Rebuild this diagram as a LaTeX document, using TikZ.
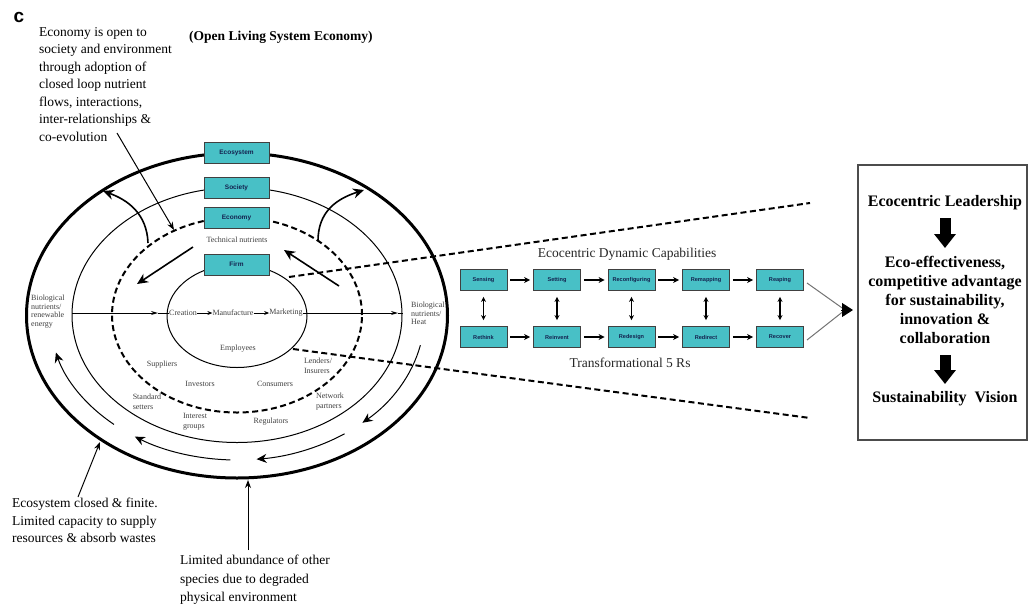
\documentclass[tikz,border=0pt]{standalone}
\usepackage{fontspec}
\setmainfont{Liberation Serif}
\newfontfamily\sansf{Liberation Sans}
\usetikzlibrary{arrows.meta}
\definecolor{cy}{RGB}{72,192,198}
\definecolor{navy}{RGB}{20,35,80}
\begin{document}
\begin{tikzpicture}[x=1pt,y=-1pt,
  ring/.style={draw=black!75,fill=cy,line width=0.8pt,minimum width=65pt,minimum height=21pt,inner sep=0pt,font=\sansf\bfseries\fontsize{6.5}{8}\selectfont,text=navy},
  capbox/.style={draw=black!75,fill=cy,line width=0.8pt,minimum width=47pt,minimum height=21pt,inner sep=0pt,font=\sansf\bfseries\fontsize{5.6}{6}\selectfont,text=navy},
  tiny/.style={font=\fontsize{8}{10}\selectfont,inner sep=0pt,text=black!75,align=left},
  body/.style={font=\fontsize{13.5}{17.5}\selectfont,align=left,inner sep=0pt},
  big/.style={font=\bfseries\fontsize{16}{19}\selectfont,align=center,inner sep=0pt},
  dashtwo/.style={line width=2pt,dash pattern=on 6pt off 3.5pt},
  boldarrow/.style={line width=1.6pt,-{Stealth[length=11pt,width=10pt]}},
  ptr/.style={line width=1pt,-{Stealth[length=8pt,width=6pt]}},
  flow/.style={line width=1pt,-{Stealth[length=10pt,width=9pt]}},
  smallflow/.style={line width=1pt,-{Stealth[length=7pt,width=4pt]}},
  capar/.style={line width=1.8pt,-{Stealth[length=6pt,width=6pt]},shorten <=3pt,shorten >=3pt},
  dbl/.style={line width=1.6pt,{Stealth[length=5pt,width=5pt]}-{Stealth[length=5pt,width=5pt]},shorten <=6pt,shorten >=6pt},
  block/.style={line width=11pt,-{Triangle[length=14pt,width=21pt]}}
]
\useasboundingbox (0,0) rectangle (1029,606);
\coordinate (c0) at (237,315);

% rings
\draw[line width=3pt] (237,315.5) ellipse [x radius=210.5pt, y radius=162.5pt];
\draw[line width=1pt] (237,315) ellipse [x radius=165pt, y radius=127.5pt];
\draw[dashtwo] (237,315) ellipse [x radius=125pt, y radius=97.5pt];
\draw[line width=1pt] (237,316) ellipse [x radius=70pt, y radius=51.5pt];

% projection lines
\coordinate (pu0) at (289,277);
\coordinate (pu1) at (810,203);
\coordinate (pl0) at (293,349);
\coordinate (pl1) at (810,418);
\draw[dashtwo] (pu0) -- (pu1);
\draw[dashtwo] (pl0) -- (pl1);

% ring boxes
\node[ring] (eco) at (236.5,153) {Ecosystem};
\node[ring] (soc) at (236.5,187.5) {Society};
\node[ring] (econ) at (236.5,217.5) {Economy};
\node[ring] (firm) at (236.5,264.5) {Firm};
\node[tiny] (tech) at (237,240) {Technical nutrients};

% bold arrows upper
\draw[boldarrow] (148,243) .. controls (147,214) and (128,200) .. (103,191);
\draw[boldarrow] (318,241) .. controls (318,212) and (336,199) .. (364,190);
\coordinate (ta0) at (193,247); \coordinate (ta1) at (137,284);
\coordinate (tb0) at (339,286); \coordinate (tb1) at (284,250);
\draw[boldarrow] (ta0) -- (ta1);
\draw[boldarrow] (tb0) -- (tb1);

% lower circulation arcs
\draw[flow] ([shift={(229:187.5pt and 145pt)}]c0) arc[start angle=229,end angle=195,x radius=187.5pt,y radius=145pt];
\draw[flow] ([shift={(268:187.5pt and 145pt)}]c0) arc[start angle=268,end angle=237,x radius=187.5pt,y radius=145pt];
\draw[flow] ([shift={(305:187.5pt and 145pt)}]c0) arc[start angle=305,end angle=276,x radius=187.5pt,y radius=145pt];
\draw[flow] ([shift={(348:187.5pt and 145pt)}]c0) arc[start angle=348,end angle=312,x radius=187.5pt,y radius=145pt];

% central flow line
\node[tiny] (cre) at (183,313) {Creation};
\node[tiny] (man) at (233,313) {Manufacture};
\node[tiny] (mkt) at (286,313) {Marketing};
\draw[line width=0.8pt,-{Stealth[length=5pt,width=4pt]}] (cre) -- (man);
\draw[line width=0.8pt,-{Stealth[length=5pt,width=4pt]}] (man) -- (mkt);
\coordinate (lin0) at (72,313); \coordinate (lin1) at (158,313);
\draw[smallflow] (lin0) -- (lin1);
\draw[line width=1pt] (lin1) -- (cre.west);
\coordinate (rin1) at (398,313); \coordinate (rin2) at (403,313);
\draw[smallflow] (mkt.east) -- (rin1);
\draw[line width=1pt] (rin1) -- (rin2);

\node[tiny,anchor=west,font=\fontsize{8}{8.5}\selectfont] (bl) at (31,311.5) {Biological\\nutrients/\\renewable\\energy};
\node[tiny,anchor=west,font=\fontsize{8}{8.5}\selectfont] (br) at (411,313.5) {Biological\\nutrients/\\Heat};

% stakeholders
\node[tiny] (emp) at (238,349) {Employees};
\node[tiny] (sup) at (162,365) {Suppliers};
\node[tiny] (len) at (318,366) {Lenders/\\Insurers};
\node[tiny] (inv) at (200,384) {Investors};
\node[tiny] (con) at (275,384) {Consumers};
\node[tiny] (std) at (147,402) {Standard\\setters};
\node[tiny] (net) at (330,402) {Network\\partners};
\node[tiny] (int) at (195,422) {Interest\\groups};
\node[tiny] (reg) at (271,422) {Regulators};

% texts
\node[font=\sansf\bfseries\fontsize{19}{20}\selectfont,inner sep=0pt] (lbl) at (19,17) {c};
\node[font=\bfseries\fontsize{13.5}{16}\selectfont,anchor=west,inner sep=0pt] (title) at (189,37) {(Open Living System Economy)};
\node[body,anchor=north west] (note1) at (39,27) {Economy is open to\\society and environment\\through adoption of\\closed loop nutrient\\flows, interactions,\\inter-relationships \&\\co-evolution};
\node[body,anchor=north west] (note2) at (12,498) {Ecosystem closed \& finite.\\Limited capacity to supply\\resources \& absorb wastes};
\node[body,anchor=north west,font=\fontsize{13.5}{18.5}\selectfont] (note3) at (180,555) {Limited abundance of other\\species due to degraded\\physical environment};

\coordinate (pa0) at (117,133); \coordinate (pa1) at (174,230);
\coordinate (pb0) at (78,497); \coordinate (pb1) at (100,442);
\coordinate (pc0) at (248,550); \coordinate (pc1) at (248,480);
\draw[ptr] (pa0) -- (pa1);
\draw[ptr] (pb0) -- (pb1);
\draw[ptr] (pc0) -- (pc1);

% capabilities
\node[capbox] (s1) at (483.5,280) {Sensing};
\node[capbox] (s2) at (557,280) {Setting};
\node[capbox] (s3) at (631.5,280) {Reconfiguring};
\node[capbox] (s4) at (706,280) {Remapping};
\node[capbox] (s5) at (780,280) {Reaping};
\node[capbox] (r1) at (483.5,337) {Rethink};
\node[capbox] (r2) at (557,337) {Reinvent};
\node[capbox] (r3) at (631.5,337) {Redesign};
\node[capbox] (r4) at (706,337) {Redirect};
\node[capbox] (r5) at (780,337) {Recover};
\foreach \a/\b in {s1/s2,s2/s3,s3/s4,s4/s5,r1/r2,r2/r3,r3/r4,r4/r5} \draw[capar] (\a) -- (\b);
\foreach \a/\b in {s1/r1,s2/r2,s3/r3,s4/r4,s5/r5} \draw[dbl] (\a) -- (\b);
\node[font=\fontsize{13.5}{16}\selectfont,inner sep=0pt,text=black!85] (edc) at (627,254) {Ecocentric Dynamic Capabilities};
\node[font=\fontsize{13.5}{16}\selectfont,inner sep=0pt,text=black!85] (t5) at (630,363) {Transformational 5 Rs};

% chevron and right box
\node[draw=black!70,line width=1.2pt,minimum width=169pt,minimum height=275pt,inner sep=0pt] (rb) at (942.5,302.5) {};
\coordinate (ch1) at (807,283); \coordinate (ch2) at (807,340); \coordinate (cht) at (845,310);
\draw[black!55,line width=1pt] (ch1) -- (cht) -- (ch2);
\coordinate (ah0) at (841,310); \coordinate (ah1) at (853,310);
\draw[line width=1pt,-{Triangle[length=11pt,width=14pt]}] (ah0) -- (ah1);

\node[big] (lead) at (945,203) {Ecocentric Leadership};
\node[big] (effect) at (945,300) {Eco-effectiveness,\\competitive advantage\\for sustainability,\\innovation \&\\collaboration};
\node[big] (vis) at (945,399) {Sustainability\ \ Vision};
\coordinate (b1a) at (945,218); \coordinate (b1b) at (945,248);
\coordinate (b2a) at (945,355); \coordinate (b2b) at (945,384);
\draw[block] (b1a) -- (b1b);
\draw[block] (b2a) -- (b2b);
\end{tikzpicture}
\end{document}
